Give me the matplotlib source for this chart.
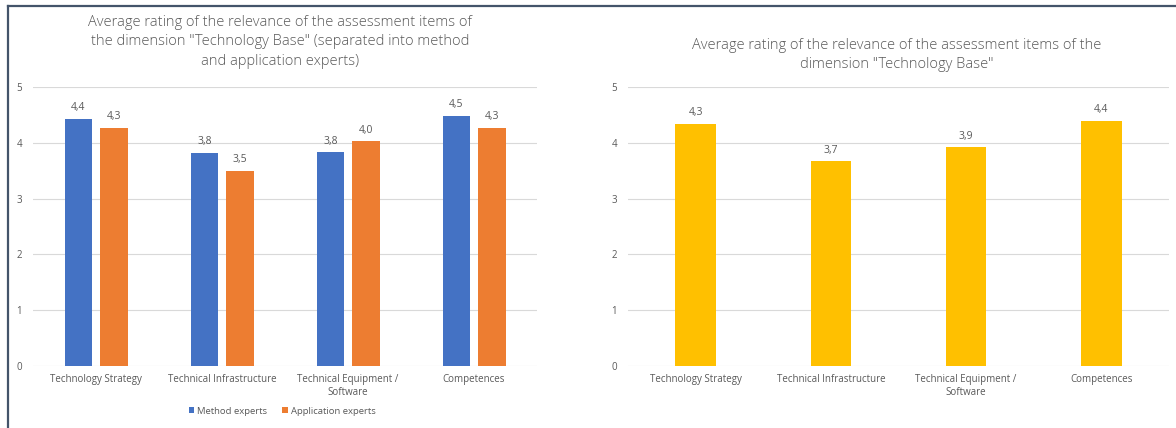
import matplotlib.pyplot as plt
import numpy as np
from matplotlib.lines import Line2D

# Average relevance ratings per assessment item
categories = ["Technology Strategy", "Technical Infrastructure",
              "Technical Equipment /\nSoftware", "Competences"]
method_experts = [4.43, 3.82, 3.83, 4.48]
application_experts = [4.27, 3.50, 4.03, 4.27]
all_experts = [4.34, 3.67, 3.92, 4.39]
y_ticks = [0, 1, 2, 3, 4, 5]

title_left = ('Average rating of the relevance of the assessment items of\n'
              'the dimension "Technology Base" (separated into method\n'
              'and application experts)')
title_right = ('Average rating of the relevance of the assessment items of the\n'
               'dimension "Technology Base"')

BLUE, ORANGE, GOLD = "#4472C4", "#ED7D31", "#FFC000"
TEXT = "#595959"
GRID = "#D9D9D9"

plt.rcParams['font.family'] = ['Open Sans', 'DejaVu Sans']

W, H = 1176, 428
fig = plt.figure(figsize=(W / 100, H / 100), dpi=100)


def px_axes(x0, x1, ytop, ybot):
    # axes placed by pixel edges (y measured from the top)
    return fig.add_axes([x0 / W, 1 - ybot / H, (x1 - x0) / W, (ybot - ytop) / H])


def style(ax):
    ax.set_ylim(0, 5)
    ax.set_xlim(-0.5, len(categories) - 0.5)
    ax.set_yticks(y_ticks)
    ax.set_xticks(np.arange(len(categories)))
    ax.set_xticklabels(categories, linespacing=1.25)
    ax.tick_params(length=0, labelsize=7, colors=TEXT)
    ax.tick_params(axis='y', pad=8)
    ax.tick_params(axis='x', pad=6)
    for s in ax.spines.values():
        s.set_visible(False)
    ax.grid(axis='y', color=GRID, linewidth=0.8)
    ax.set_axisbelow(True)


def label_bars(ax, bars):
    for b in bars:
        v = b.get_height()
        ax.annotate(f"{v:.1f}".replace('.', ','),
                    (b.get_x() + b.get_width() / 2, v),
                    xytext=(0, 4), textcoords='offset points',
                    ha='center', va='bottom', fontsize=7.5, color=TEXT)


x = np.arange(len(categories))

# left chart: method vs application experts
ax1 = px_axes(33, 537, 87, 366)
style(ax1)
b1 = ax1.bar(x - 0.14, method_experts, 0.22, color=BLUE, label="Method experts")
b2 = ax1.bar(x + 0.14, application_experts, 0.22, color=ORANGE, label="Application experts")
label_bars(ax1, b1)
label_bars(ax1, b2)
fig.legend(handles=[b1, b2], loc='center', bbox_to_anchor=(282 / W, 1 - 411 / H),
           ncol=2, frameon=False, fontsize=6.8, labelcolor=TEXT,
           handlelength=0.6, handleheight=0.6, handletextpad=0.3, columnspacing=1.6)
fig.text(280 / W, 1 - 15 / H, title_left, ha='center', va='top',
         fontsize=10.5, color=TEXT, linespacing=1.4, fontweight='light')

# right chart: all experts
ax2 = px_axes(628, 1169, 87, 366)
style(ax2)
b3 = ax2.bar(x, all_experts, 0.30, color=GOLD)
label_bars(ax2, b3)
fig.text(897 / W, 1 - 38 / H, title_right, ha='center', va='top',
         fontsize=10.5, color=TEXT, linespacing=1.4, fontweight='light')

# frame edges along the top and left
border = "#44546A"
fig.add_artist(Line2D([8 / W, 1], [1 - 6 / H, 1 - 6 / H], color=border, lw=1.6))
fig.add_artist(Line2D([8 / W, 8 / W], [0, 1 - 6 / H], color=border, lw=1.6))

fig.savefig("out.png", dpi=100)
